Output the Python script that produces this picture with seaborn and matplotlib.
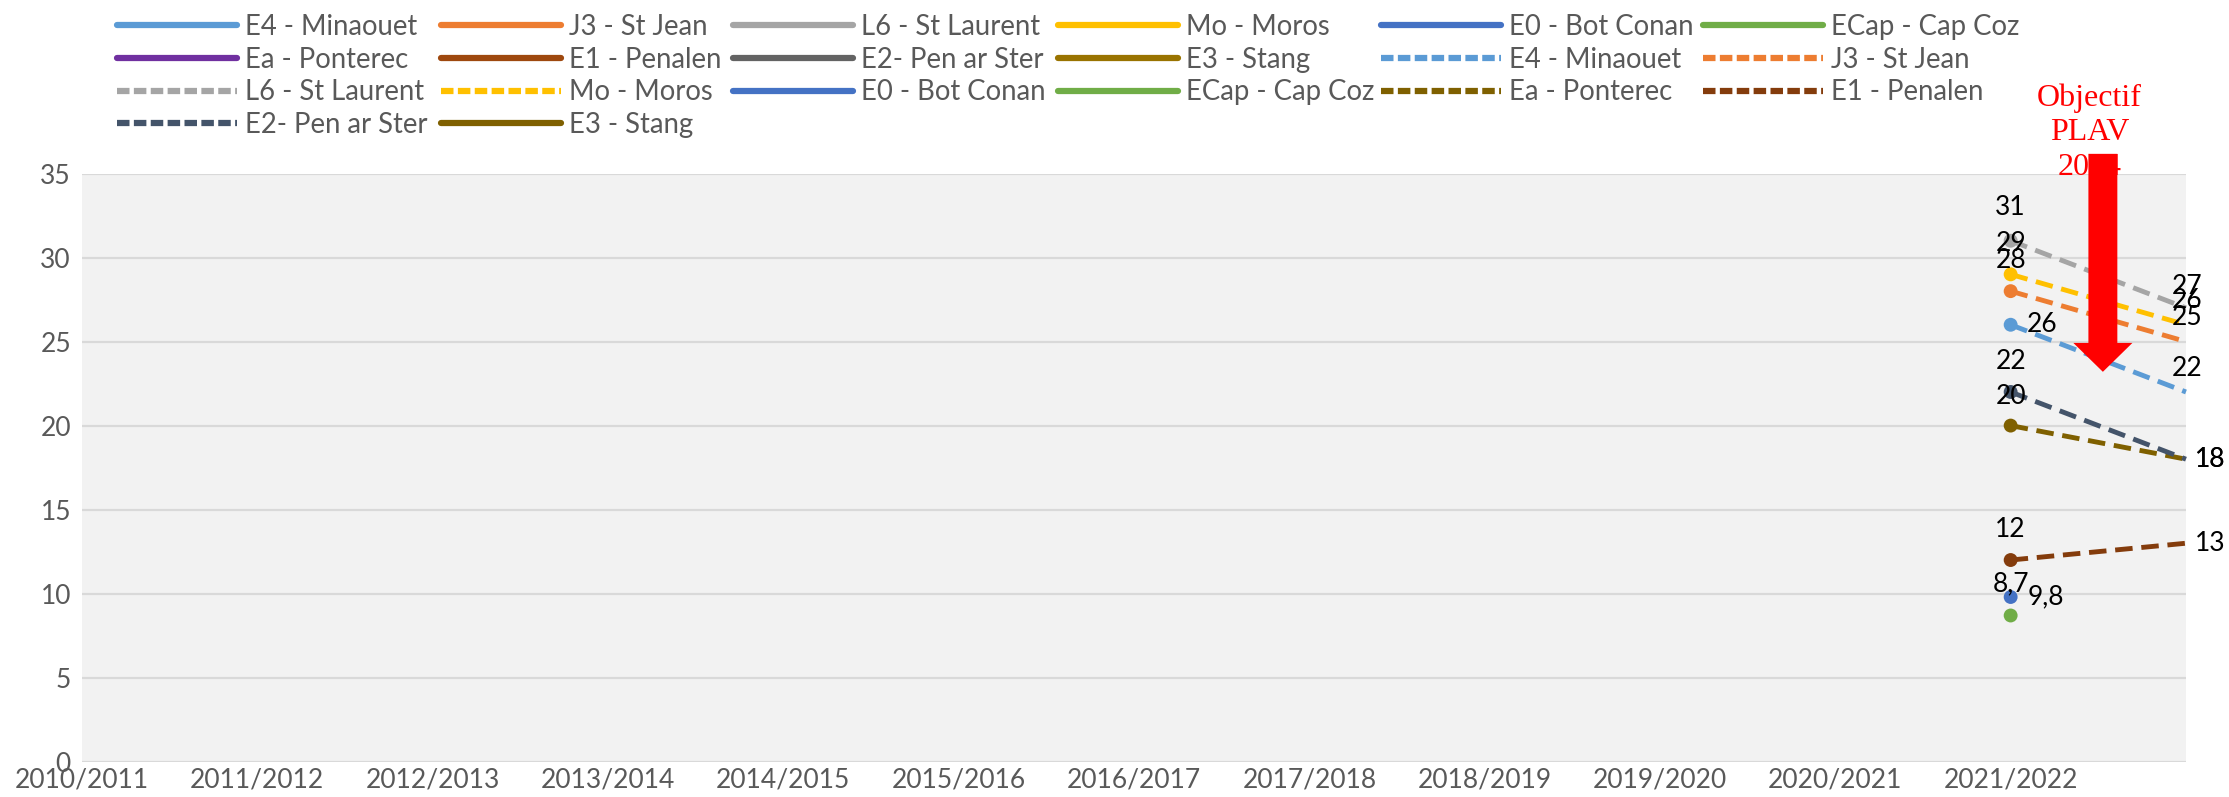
import numpy as np
import pandas as pd
import matplotlib
matplotlib.use("Agg")
import matplotlib.pyplot as plt
import seaborn as sns
from matplotlib.lines import Line2D
from matplotlib.patches import FancyArrow

#-------------------- data ------------------------------------------------------------
seasons = ["2010/2011", "2011/2012", "2012/2013", "2013/2014", "2014/2015", "2015/2016",
           "2016/2017", "2017/2018", "2018/2019", "2019/2020", "2020/2021", "2021/2022", ""]

stations = ["E4 - Minaouet", "J3 - St Jean", "L6 - St Laurent", "Mo - Moros", "E0 - Bot Conan",
            "ECap - Cap Coz", "Ea - Ponterec", "E1 - Penalen", "E2- Pen ar Ster", "E3 - Stang"]

# colours of the measured series (solid) and of the objective series
measure_colors = ["#5B9BD5", "#ED7D31", "#A5A5A5", "#FFC000", "#4472C4",
                  "#70AD47", "#7030A0", "#9E480E", "#636363", "#997300"]
objective_colors = ["#5B9BD5", "#ED7D31", "#A5A5A5", "#FFC000", "#4472C4",
                    "#70AD47", "#7F6000", "#843C0C", "#44546A", "#7F6000"]
objective_dashed = [True, True, True, True, False, False, True, True, True, False]

# objective series: value in 2021/2022 and target value (last category)
value_2122 = [26, 28, 31, 29, 9.8, 8.7, 20, 12, 22, np.nan]
value_target = [22, 25, 27, 26, np.nan, np.nan, 18, 13, 18, np.nan]

# data label placement (pixels) : start label, end label
start_offsets = [(31, 0), (0, 31), (0, 33), (0, 31), (35, 0), (0, 32), (0, 29), (0, 31), (0, 30), (0, 0)]
end_offsets = [(1, 23), (1, 24), (1, 21), (1, 24), (0, 0), (0, 0), (24, 0), (24, 0), (24, 0), (0, 0)]

def fmt(v):
    return ("%g" % v).replace(".", ",")

#-------------------- figure ----------------------------------------------------------
sns.set_style("white")
plt.rcParams["font.family"] = ["Lato", "DejaVu Sans"]

fig = plt.figure(figsize=(22.29, 7.97), dpi=100)
ax = fig.add_axes([0.0368, 0.0443, 0.9439, 0.7380])
ax.set_facecolor("#F2F2F2")

i_now = seasons.index("2021/2022")
i_target = len(seasons) - 1

for k, name in enumerate(stations):
    c = objective_colors[k]
    if not np.isnan(value_2122[k]) and not np.isnan(value_target[k]):
        seg = pd.DataFrame({"x": [i_now, i_target], "y": [value_2122[k], value_target[k]]})
        sns.lineplot(data=seg, x="x", y="y", ax=ax, color=c, lw=3.5,
                     linestyle=(0, (3.6, 1.8)) if objective_dashed[k] else "-",
                     zorder=3, clip_on=False)
    if not np.isnan(value_2122[k]):
        sns.scatterplot(x=[i_now], y=[value_2122[k]], ax=ax, color=c, s=100,
                        edgecolor="none", zorder=4)
        ax.annotate(fmt(value_2122[k]), (i_now, value_2122[k]), xytext=start_offsets[k],
                    textcoords="offset pixels", ha="center", va="center",
                    fontsize=19, color="black", zorder=6)
    if not np.isnan(value_target[k]):
        ax.annotate(fmt(value_target[k]), (i_target, value_target[k]), xytext=end_offsets[k],
                    textcoords="offset pixels", ha="center", va="center",
                    fontsize=19, color="black", zorder=6, annotation_clip=False)

ax.set_xlim(0, i_target)
ax.set_ylim(0, 35)
ax.set_xticks(range(len(seasons)))
ax.set_xticklabels(seasons)
ax.set_yticks(range(0, 36, 5))
ax.tick_params(axis="both", length=0, labelsize=19, labelcolor="#595959")
ax.tick_params(axis="x", pad=4)
ax.tick_params(axis="y", pad=8)
ax.grid(axis="y", color="#D9D9D9", lw=1.6)
ax.grid(axis="x", visible=False)
ax.set_axisbelow(True)
ax.set_xlabel("")
ax.set_ylabel("")
for s in ax.spines.values():
    s.set_visible(False)

# Objectif PLAV 2024 annotation
ax.text(11.45, 37.45, "Objectif\nPLAV\n2024", ha="center", va="center", color="red",
        fontsize=23, family="Liberation Serif", linespacing=1.25, clip_on=False, zorder=7)
ax.add_patch(FancyArrow(11.526, 36.17, 0, 23.2 - 36.17, width=0.165, head_width=0.337,
                        head_length=1.72, length_includes_head=True, color="red",
                        lw=0, clip_on=False, zorder=8))

#-------------------- legend ----------------------------------------------------------
# excel-like legend: 6 fixed-width columns filled row by row
entries = []
for k, name in enumerate(stations):
    entries.append((name, measure_colors[k], "-"))
for k, name in enumerate(stations):
    entries.append((name, objective_colors[k], (0, (2.0, 0.7)) if objective_dashed[k] else "-"))

ncol = 6
col_left_px = [117, 441, 733, 1058, 1381, 1703]
for j in range(ncol):
    col = entries[j::ncol]
    handles = [Line2D([], [], color=c, lw=4.5, linestyle=ls) for _, c, ls in col]
    labels = [n for n, _, _ in col]
    leg = fig.legend(handles, labels, loc="upper left",
                     bbox_to_anchor=(col_left_px[j] / 2229, 0.9825),
                     frameon=False, fontsize=19.8, handlelength=4.35, handletextpad=0.3,
                     labelspacing=0.24, borderpad=0, borderaxespad=0)
    for t in leg.get_texts():
        t.set_color("#595959")

fig.savefig("out.png", dpi=100, facecolor="white")
